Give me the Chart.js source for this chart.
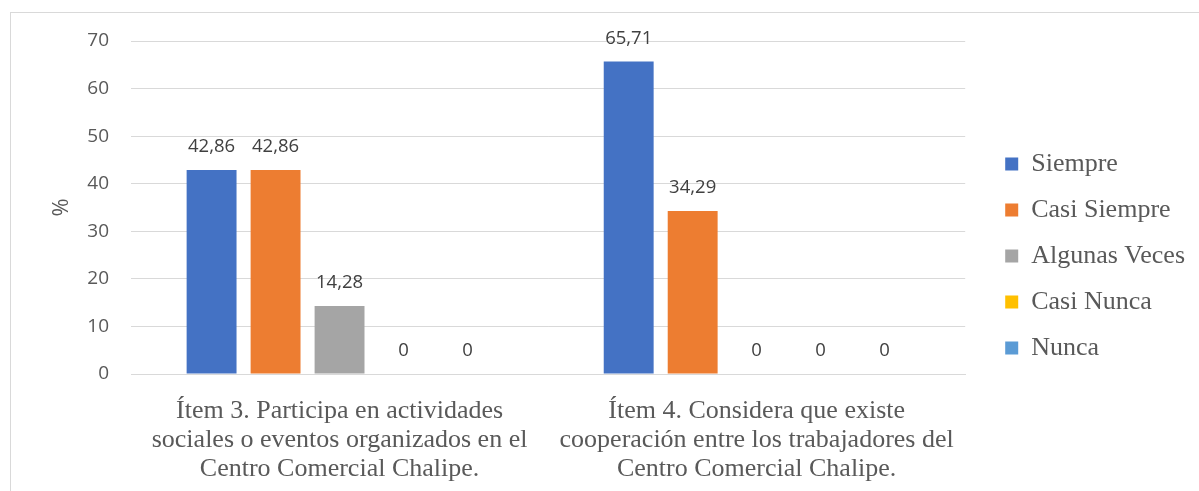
<!DOCTYPE html>
<html>
<head>
<meta charset="utf-8">
<script src="https://cdn.jsdelivr.net/npm/chart.js@4"></script>
<style>
  html, body { margin: 0; padding: 0; background: #fff; overflow: hidden; }
  #frame {
    position: absolute; left: 10px; top: 12px; width: 1200px; height: 500px;
    border-left: 1px solid #d9d9d9; border-top: 1px solid #d9d9d9;
  }
  #chart { position: absolute; left: 11px; top: 13px; }
</style>
</head>
<body>
<div id="frame"></div>
<canvas id="chart" width="1188" height="478"></canvas>
<script>
const categories = [
  ['Ítem 3. Participa en actividades', 'sociales o eventos organizados en el', 'Centro Comercial Chalipe.'],
  ['Ítem 4. Considera que existe', 'cooperación entre los trabajadores del', 'Centro Comercial Chalipe.']
];
const seriesNames = ['Siempre', 'Casi Siempre', 'Algunas Veces', 'Casi Nunca', 'Nunca'];
const siempre = [42.86, 65.71];
const casiSiempre = [42.86, 34.29];
const algunasVeces = [14.28, 0];
const casiNunca = [0, 0];
const nunca = [0, 0];
const yTicks = [0, 10, 20, 30, 40, 50, 60, 70];
const colors = ['#4472C4', '#ED7D31', '#A5A5A5', '#FFC000', '#5B9BD5'];

const sans = "'Open Sans', sans-serif";
const serif = "'Liberation Serif', 'Times New Roman', serif";

// draws the value above each bar, decimal comma like the original
const valueLabels = {
  id: 'valueLabels',
  afterDatasetsDraw(chart) {
    const ctx = chart.ctx;
    ctx.save();
    ctx.font = '18.5px ' + sans;
    ctx.fillStyle = '#404040';
    ctx.textAlign = 'center';
    ctx.textBaseline = 'middle';
    chart.data.datasets.forEach((ds, i) => {
      chart.getDatasetMeta(i).data.forEach((bar, j) => {
        const txt = String(ds.data[j]).replace('.', ',');
        ctx.fillText(txt, bar.x, bar.y - 23);
      });
    });
    ctx.restore();
  }
};

const allSeries = [siempre, casiSiempre, algunasVeces, casiNunca, nunca];

new Chart(document.getElementById('chart').getContext('2d'), {
  type: 'bar',
  data: {
    labels: categories,
    datasets: seriesNames.map((name, i) => ({
      label: name,
      data: allSeries[i],
      backgroundColor: colors[i],
      categoryPercentage: 0.767,
      barPercentage: 0.78
    }))
  },
  options: {
    responsive: false,
    animation: false,
    layout: { padding: { left: 38, top: 8, right: 4, bottom: 0 } },
    plugins: {
      tooltip: { enabled: false },
      legend: {
        position: 'right',
        labels: {
          boxWidth: 13,
          boxHeight: 13,
          padding: 20,
          color: '#595959',
          font: { family: serif, size: 26 }
        }
      }
    },
    scales: {
      x: {
        grid: { display: false },
        border: { color: '#d9d9d9', width: 1 },
        afterFit: axis => { axis.height = 117; },
        ticks: {
          color: '#595959',
          maxRotation: 0,
          autoSkip: false,
          padding: 15,
          font: { family: serif, size: 26, lineHeight: 1.115 }
        }
      },
      y: {
        min: 0,
        max: 70,
        afterBuildTicks: axis => { axis.ticks = yTicks.map(v => ({ value: v })); },
        afterFit: axis => { axis.width = 82; axis.paddingTop = 28; },
        grid: { color: '#d9d9d9', drawTicks: false },
        border: { display: false },
        ticks: {
          color: '#595959',
          padding: 22,
          font: { family: sans, size: 19 }
        },
        title: {
          display: true,
          text: '%',
          color: '#595959',
          padding: { top: 0, bottom: 0 },
          font: { family: sans, size: 22 }
        }
      },
      // hidden spacer between plot and legend
      gap: {
        type: 'linear',
        position: 'right',
        display: false,
        afterFit: axis => { axis.width = 20; }
      }
    }
  },
  plugins: [valueLabels]
});
</script>
</body>
</html>
